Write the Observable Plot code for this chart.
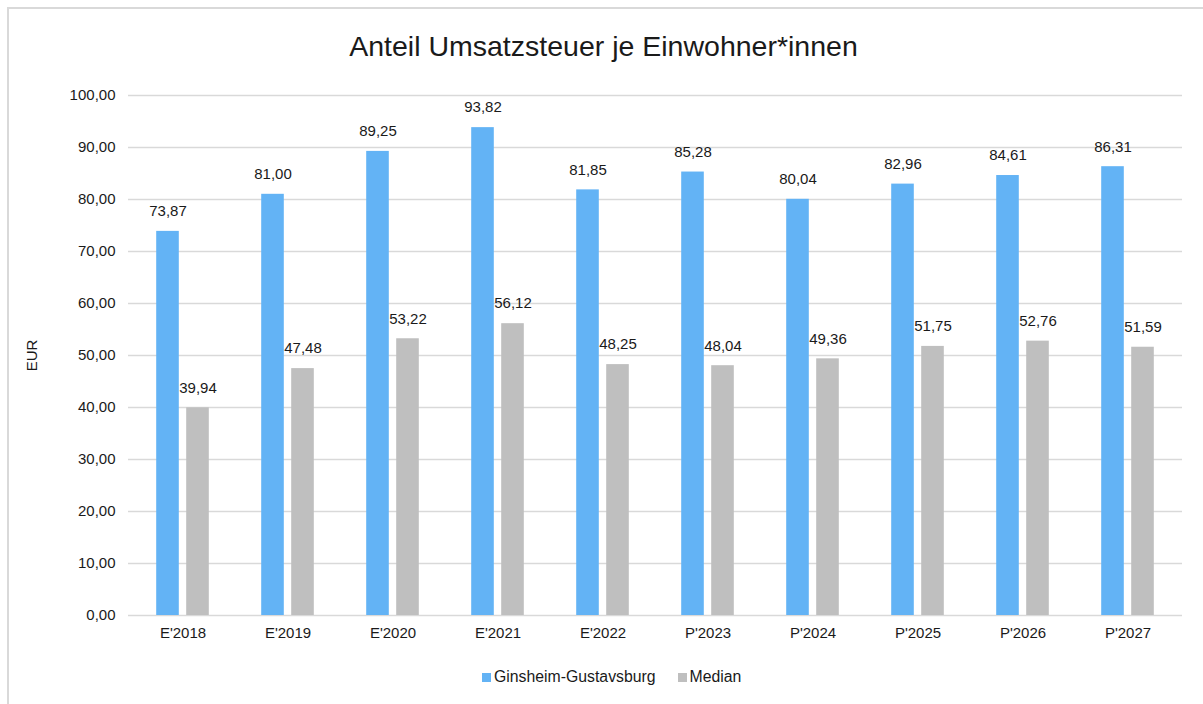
<!DOCTYPE html>
<html>
<head>
<meta charset="utf-8">
<script src="https://cdn.jsdelivr.net/npm/d3@7"></script>
<script src="https://cdn.jsdelivr.net/npm/@observablehq/plot@0.6"></script>
<style>
  html, body { margin: 0; padding: 0; background: #fff; overflow: hidden; }
  body { width: 1203px; height: 704px; position: relative; font-family: "Liberation Sans", Arial, sans-serif; color: #262626; }
  #frame { position: absolute; left: 7px; top: 7px; width: 1300px; height: 800px; border: 2px solid #d9d9d9; box-sizing: border-box; pointer-events: none; }
  #title { position: absolute; left: 0; top: 32px; width: 1207px; text-align: center; font-size: 28.5px; line-height: 29px; color: #1a1a1a; }
  #chart { position: absolute; left: 0; top: 0; }
  #legend { position: absolute; left: 482px; top: 667px; display: flex; align-items: center; font-size: 15.8px; line-height: 20px; color: #1a1a1a; }
  .item { display: flex; align-items: center; margin-right: 22px; }
  .sw { width: 9px; height: 9px; margin-right: 3px; }
</style>
</head>
<body>
<div id="frame"></div>
<div id="title">Anteil Umsatzsteuer je Einwohner*innen</div>
<div id="chart"></div>
<div id="legend"></div>
<script>
// ---- data ----
const years = ["E'2018", "E'2019", "E'2020", "E'2021", "E'2022", "P'2023", "P'2024", "P'2025", "P'2026", "P'2027"];
const ginsheim = [73.87, 81.00, 89.25, 93.82, 81.85, 85.28, 80.04, 82.96, 84.61, 86.31];
const median = [39.94, 47.48, 53.22, 56.12, 48.25, 48.04, 49.36, 51.75, 52.76, 51.59];
const seriesNames = ["Ginsheim-Gustavsburg", "Median"];
const seriesColors = ["#63b3f5", "#bfbfbf"];
const yTicks = [0, 10, 20, 30, 40, 50, 60, 70, 80, 90, 100];

const fmt = v => v.toFixed(2).replace(".", ",");
const rowsG = years.map((y, i) => ({year: y, series: seriesNames[0], value: ginsheim[i]}));
const rowsM = years.map((y, i) => ({year: y, series: seriesNames[1], value: median[i]}));

const barInset = 41.2;
const offset = 15;

const chart = Plot.plot({
  width: 1203,
  height: 650,
  marginLeft: 128,
  marginRight: 21,
  marginTop: 95,
  marginBottom: 35,
  style: {fontFamily: "'Liberation Sans', Arial, sans-serif", fontSize: "15px", color: "#1a1a1a", background: "transparent", overflow: "visible"},
  x: {domain: years, padding: 0, tickSize: 0, tickPadding: 12, label: null},
  y: {domain: [0, 100], ticks: 10, tickFormat: fmt, tickSize: 0, tickPadding: 13, label: "EUR", labelAnchor: "center", labelOffset: 102, labelArrow: "none"},
  color: {domain: seriesNames, range: seriesColors},
  marks: [
    Plot.ruleY(yTicks, {stroke: "#d9d9d9", strokeWidth: 1.4}),
    Plot.barY(rowsG, {x: "year", y: "value", fill: "series", insetLeft: barInset, insetRight: barInset, dx: -offset}),
    Plot.barY(rowsM, {x: "year", y: "value", fill: "series", insetLeft: barInset, insetRight: barInset, dx: offset}),
    Plot.text(rowsG, {x: "year", y: "value", text: d => fmt(d.value), dx: -offset, dy: -20, fontSize: 15, fill: "#1a1a1a"}),
    Plot.text(rowsM, {x: "year", y: "value", text: d => fmt(d.value), dx: offset, dy: -20, fontSize: 15, fill: "#1a1a1a"})
  ]
});
document.getElementById("chart").appendChild(chart);

const legend = document.getElementById("legend");
seriesNames.forEach((name, i) => {
  const item = document.createElement("div");
  item.className = "item";
  const sw = document.createElement("span");
  sw.className = "sw";
  sw.style.background = seriesColors[i];
  const label = document.createElement("span");
  label.textContent = name;
  item.appendChild(sw);
  item.appendChild(label);
  legend.appendChild(item);
});
</script>
</body>
</html>
